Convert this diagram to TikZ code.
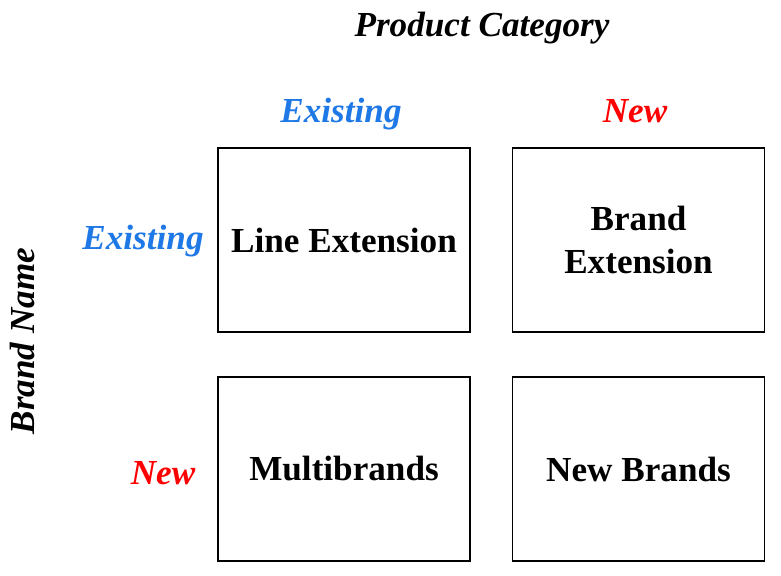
\documentclass[tikz,border=0pt]{standalone}
\usepackage{fontspec}
\setmainfont{Liberation Serif}
\definecolor{existblue}{RGB}{30,120,230}
\definecolor{newred}{RGB}{255,0,0}
\begin{document}
\begin{tikzpicture}[x=0.025cm,y=-0.025cm]

      \useasboundingbox (0,0) rectangle (781,575);

      \begin{scope}[every node/.style={draw,line width=1.1pt,minimum width=6.3cm,minimum height=4.6cm,
          align=center,font=\fontsize{25}{31}\selectfont\bfseries,inner sep=0pt}]
        \node (le) at (344,240)   {Line Extension};
        \node (be) at (638.5,240) {Brand\\Extension};
        \node (mb) at (344,469)   {Multibrands};
        \node (nb) at (638.5,469) {New Brands};
      \end{scope}

      \begin{scope}[every node/.style={anchor=base,font=\fontsize{25}{28}\selectfont\bfseries\itshape,inner sep=0pt}]
        \node (pc) at (482,36)  {Product Category};
        \node[existblue] (ce) at (341,122) {Existing};
        \node[newred]    (cn) at (635,122) {New};
        \node[existblue] (re) at (143,249) {Existing};
        \node[newred]    (rn) at (163,484) {New};
        \node[rotate=90] (bn) at (34,341)  {Brand Name};
      \end{scope}

    \end{tikzpicture}
\end{document}
